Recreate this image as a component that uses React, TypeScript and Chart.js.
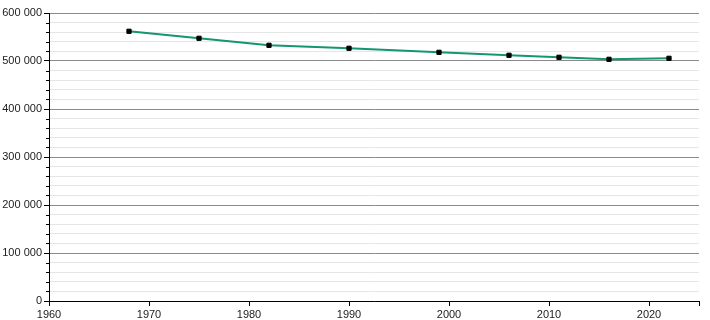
import React, { useEffect, useRef } from 'react';
import { Chart, registerables } from 'chart.js';

Chart.register(...registerables);

const years = [1968, 1975, 1982, 1990, 1999, 2006, 2011, 2016, 2022];
const population = [561900, 547300, 532700, 526500, 518100, 511900, 507700, 503500, 505600];
const xMin = 1960;
const xMax = 2025;
const yMin = 0;
const yMax = 600000;
const yMajorStep = 100000;
const yMinorStep = 20000;
const xStep = 10;

const fmt = (v: number) => String(Math.round(v)).replace(/\B(?=(\d{3})+(?!\d))/g, ' ');

const minorTicks = {
  id: 'minorTicks',
  afterDraw(chart: any) {
    const y = chart.scales.y;
    const ctx = chart.ctx;
    const x0 = chart.chartArea.left;
    ctx.save();
    ctx.strokeStyle = '#000';
    ctx.lineWidth = 1;
    for (let v = yMin; v <= yMax; v += yMinorStep) {
      if (v % yMajorStep === 0) continue;
      const py = Math.round(y.getPixelForValue(v)) + 0.5;
      ctx.beginPath();
      ctx.moveTo(x0 - 3, py);
      ctx.lineTo(x0, py);
      ctx.stroke();
    }
    ctx.restore();
  },
};

export default function App() {
  const ref = useRef<HTMLCanvasElement | null>(null);
  useEffect(() => {
    document.body.style.margin = '0';
    const font = { family: "'Liberation Sans', Arial, sans-serif", size: 11 };
    const chart = new Chart(ref.current!, {
      type: 'line',
      data: {
        datasets: [
          {
            data: years.map((x, i) => ({ x, y: population[i] })),
            borderColor: 'rgb(20,150,112)',
            borderWidth: 2,
            tension: 0,
            pointStyle: 'rect',
            pointRadius: 3,
            pointBorderWidth: 1,
            pointBackgroundColor: '#000',
            pointBorderColor: '#000',
          },
        ],
      },
      options: {
        animation: false,
        responsive: false,
        layout: { padding: { top: 13, right: 11, left: 0, bottom: 0 } },
        plugins: { legend: { display: false }, tooltip: { enabled: false } },
        scales: {
          x: {
            type: 'linear',
            min: xMin,
            max: xMax,
            afterFit: (s: any) => { s.height = 19; },
            ticks: {
              stepSize: xStep,
              color: '#222',
              font,
              padding: 2,
              maxRotation: 0,
              callback: (v: any) => (Number(v) % xStep === 0 ? String(v) : ''),
            },
            grid: { drawOnChartArea: false, drawTicks: true, tickLength: 5, tickColor: '#000' },
            border: { display: true, color: '#000', width: 1 },
          },
          y: {
            min: yMin,
            max: yMax,
            afterFit: (s: any) => { s.width = 49; },
            ticks: {
              stepSize: yMinorStep,
              autoSkip: false,
              color: '#222',
              font,
              padding: 2,
              callback: (v: any) => (Number(v) % yMajorStep === 0 ? fmt(Number(v)) : ''),
            },
            grid: {
              drawTicks: true,
              tickLength: 5,
              color: (c: any) => (c.tick && c.tick.value % yMajorStep === 0 ? '#8a8a8a' : '#e6e6e6'),
              tickColor: (c: any) => (c.tick && c.tick.value % yMajorStep === 0 ? '#000' : 'rgba(0,0,0,0)'),
            },
            border: { display: true, color: '#000', width: 1 },
          },
        },
      },
      plugins: [minorTicks],
    });
    return () => chart.destroy();
  }, []);
  return <canvas ref={ref} width={710} height={320} />;
}
